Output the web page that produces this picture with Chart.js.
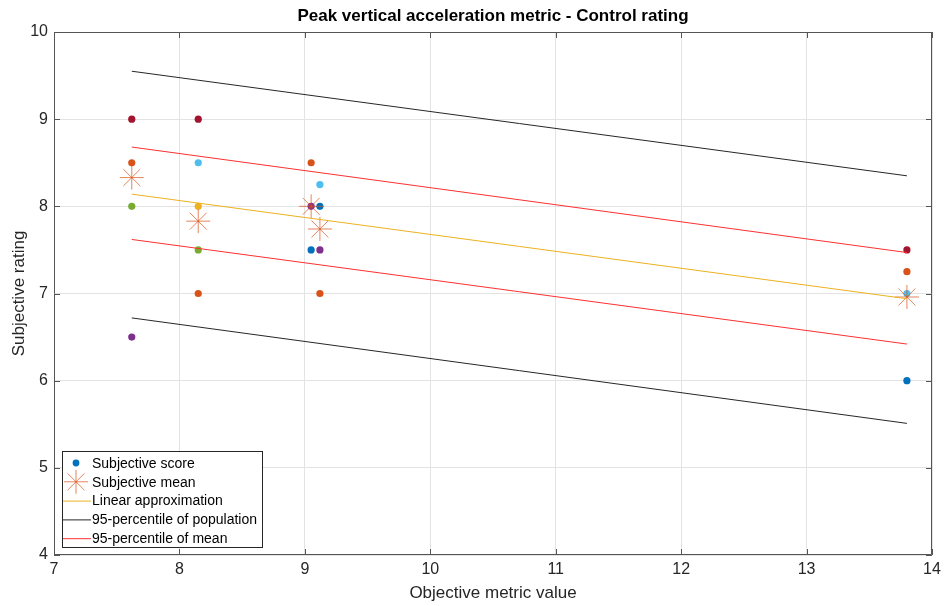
<!DOCTYPE html>
<html>
<head>
<meta charset="utf-8">
<script src="https://cdn.jsdelivr.net/npm/chart.js@4/dist/chart.umd.min.js"></script>
<style>
  html, body { margin: 0; padding: 0; background: #fff; }
  #wrap { width: 946px; height: 606px; }
</style>
</head>
<body>
<div id="wrap"><canvas id="chart" width="946" height="606"></canvas></div>
<script>
// objective metric of each test condition
const conditionX = [7.62, 8.15, 9.05, 9.12, 13.8];

// subjective scores per driver (null = no rating for that condition)
const scoreBlue      = [null, null, 7.5, 8, 6];
const scoreOrange    = [8.5, 7, 8.5, 7, 7.25];
const scoreYellow    = [null, 8, null, null, null];
const scorePurple    = [6.5, null, 8, 7.5, null];
const scoreGreen     = [8, 7.5, null, null, null];
const scoreLightBlue = [null, 8.5, null, 8.25, 7];
const scoreCrimson   = [9, 9, null, null, 7.5];

// mean rating of each condition
const meanScore = [8.33, 7.83, 8.0, 7.74, 6.96];

// regression line and confidence bands, at first and last condition
const fitX = [7.62, 13.8];
const linearFit = [8.14, 6.94];
const popUpper = [9.55, 8.35];
const popLower = [6.72, 5.51];
const meanUpper = [8.68, 7.47];
const meanLower = [7.62, 6.42];

const xTicks = [7, 8, 9, 10, 11, 12, 13, 14];
const yTicks = [4, 5, 6, 7, 8, 9, 10];

const colors = {
    blue: '#0072BD',
    orange: '#D95319',
    yellow: '#EDB120',
    purple: '#7E2F8E',
    green: '#77AC30',
    lightBlue: '#4DBEEE',
    crimson: '#A2142F'
};

const FONT = '"Liberation Sans", Arial, Helvetica, sans-serif';

function pts(xs, ys) {
    return xs.map((x, i) => ({ x: x, y: ys[i] })).filter(p => p.y !== null);
}

function scoreSet(values, color) {
    return {
        label: 'Subjective score',
        data: pts(conditionX, values),
        backgroundColor: color,
        borderWidth: 0,
        pointRadius: 3.6,
        order: 3
    };
}

function lineSet(label, ys, color) {
    return {
        label: label,
        data: pts(fitX, ys),
        showLine: true,
        borderColor: color,
        borderWidth: 1,
        pointRadius: 0,
        fill: false,
        order: 1
    };
}

const datasets = [
    scoreSet(scoreBlue, colors.blue),
    scoreSet(scoreOrange, colors.orange),
    scoreSet(scoreYellow, colors.yellow),
    scoreSet(scorePurple, colors.purple),
    scoreSet(scoreGreen, colors.green),
    scoreSet(scoreLightBlue, colors.lightBlue),
    scoreSet(scoreCrimson, colors.crimson),
    {
        label: 'Subjective mean',
        data: pts(conditionX, meanScore),
        pointStyle: 'star',
        pointRadius: 12,
        borderColor: 'rgba(217,83,25,0.7)',
        backgroundColor: 'rgba(217,83,25,0.7)',
        borderWidth: 1,
        order: 2
    },
    lineSet('Linear approximation', linearFit, colors.yellow),
    lineSet('95-percentile of population', popUpper, '#262626'),
    lineSet('95-percentile of population', popLower, '#262626'),
    lineSet('95-percentile of mean', meanUpper, '#ff3030'),
    lineSet('95-percentile of mean', meanLower, '#ff3030')
];

// box around the axes with inward tick marks
const axesBox = {
    id: 'axesBox',
    afterDraw(chart) {
        const { ctx, chartArea: a, scales } = chart;
        ctx.save();
        ctx.strokeStyle = '#555';
        ctx.lineWidth = 1;
        ctx.beginPath();
        ctx.rect(a.left + 0.5, a.top + 0.5, a.right - a.left - 1, a.bottom - a.top - 1);
        ctx.stroke();
        ctx.beginPath();
        xTicks.forEach(v => {
            const px = Math.round(scales.x.getPixelForValue(v)) + 0.5;
            ctx.moveTo(px, a.bottom); ctx.lineTo(px, a.bottom - 6);
            ctx.moveTo(px, a.top); ctx.lineTo(px, a.top + 6);
        });
        yTicks.forEach(v => {
            const py = Math.round(scales.y.getPixelForValue(v)) + 0.5;
            ctx.moveTo(a.left, py); ctx.lineTo(a.left + 6, py);
            ctx.moveTo(a.right, py); ctx.lineTo(a.right - 6, py);
        });
        ctx.stroke();
        ctx.restore();
    }
};

// legend in the lower-left corner of the plot
const cornerLegend = {
    id: 'cornerLegend',
    afterDraw(chart) {
        const { ctx, chartArea: a } = chart;
        const entries = [
            { text: 'Subjective score', kind: 'dot', color: colors.blue },
            { text: 'Subjective mean', kind: 'star', color: 'rgba(217,83,25,0.7)' },
            { text: 'Linear approximation', kind: 'line', color: colors.yellow },
            { text: '95-percentile of population', kind: 'line', color: '#262626' },
            { text: '95-percentile of mean', kind: 'line', color: '#ff3030' }
        ];
        const bx = a.left + 8, by = a.bottom - 104, bw = 200, bh = 96;
        ctx.save();
        ctx.fillStyle = '#fff';
        ctx.fillRect(bx, by, bw, bh);
        ctx.strokeStyle = '#262626';
        ctx.lineWidth = 1;
        ctx.strokeRect(bx + 0.5, by + 0.5, bw, bh);
        ctx.font = '14px ' + FONT;
        ctx.textBaseline = 'middle';
        entries.forEach((e, i) => {
            const cy = by + 12 + i * 18.8;
            const cx = bx + 14;
            ctx.strokeStyle = e.color;
            ctx.fillStyle = e.color;
            ctx.lineWidth = 1;
            if (e.kind === 'dot') {
                ctx.beginPath();
                ctx.arc(cx, cy, 3.4, 0, Math.PI * 2);
                ctx.fill();
            } else if (e.kind === 'star') {
                const r = 12;
                ctx.beginPath();
                for (let k = 0; k < 4; k++) {
                    const ang = k * Math.PI / 4;
                    ctx.moveTo(cx - r * Math.cos(ang), cy - r * Math.sin(ang));
                    ctx.lineTo(cx + r * Math.cos(ang), cy + r * Math.sin(ang));
                }
                ctx.stroke();
            } else {
                ctx.beginPath();
                ctx.moveTo(bx + 1, cy + 0.5);
                ctx.lineTo(bx + 29, cy + 0.5);
                ctx.stroke();
            }
            ctx.fillStyle = '#000';
            ctx.fillText(e.text, bx + 30, cy + 1);
        });
        ctx.restore();
    }
};

new Chart(document.getElementById('chart'), {
    type: 'scatter',
    data: { datasets: datasets },
    options: {
        responsive: false,
        animation: false,
        layout: { padding: { left: 0, right: 14, top: 0, bottom: 0 } },
        plugins: {
            legend: { display: false },
            tooltip: { enabled: false },
            title: {
                display: true,
                fullSize: false,
                text: 'Peak vertical acceleration metric - Control rating',
                color: '#000',
                font: { family: FONT, size: 17, weight: 'bold', lineHeight: 1.2 },
                padding: { top: 6, bottom: 5.6 }
            }
        },
        scales: {
            x: {
                type: 'linear',
                min: 7,
                max: 14,
                afterFit(scale) { scale.height = 51; },
                afterBuildTicks(scale) { scale.ticks = xTicks.map(v => ({ value: v })); },
                grid: { color: '#e3e3e3', drawTicks: false },
                border: { display: false },
                ticks: { color: '#262626', padding: 5, font: { family: FONT, size: 16 } },
                title: {
                    display: true,
                    text: 'Objective metric value',
                    color: '#262626',
                    font: { family: FONT, size: 17 },
                    padding: { top: 0, bottom: 2 }
                }
            },
            y: {
                type: 'linear',
                min: 4,
                max: 10,
                afterFit(scale) { scale.width = 54; },
                afterBuildTicks(scale) { scale.ticks = yTicks.map(v => ({ value: v })); },
                grid: { color: '#e3e3e3', drawTicks: false },
                border: { display: false },
                ticks: { color: '#262626', padding: 6, font: { family: FONT, size: 16 } },
                title: {
                    display: true,
                    text: 'Subjective rating',
                    color: '#262626',
                    font: { family: FONT, size: 17 },
                    padding: { top: 9, bottom: 0 }
                }
            }
        }
    },
    plugins: [axesBox, cornerLegend]
});
</script>
</body>
</html>
